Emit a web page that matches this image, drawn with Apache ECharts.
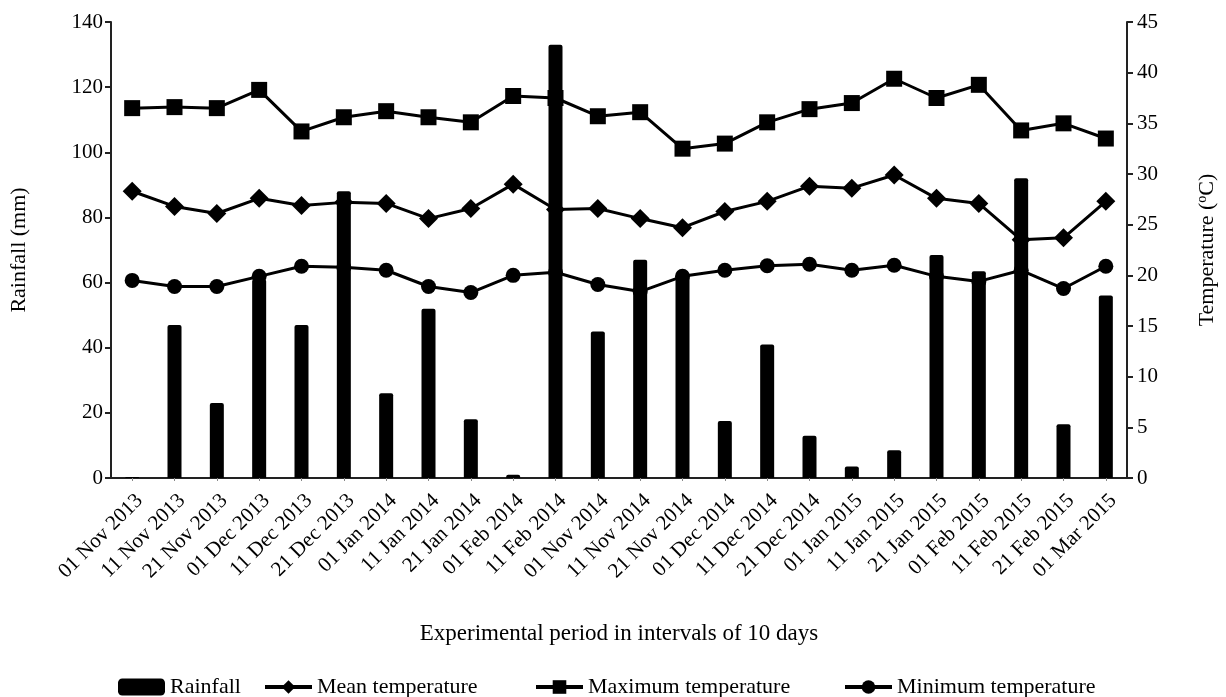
<!DOCTYPE html>
<html>
<head>
<meta charset="utf-8">
<script src="https://cdn.jsdelivr.net/npm/echarts@6/dist/echarts.min.js"></script>
<style>
  html, body { margin: 0; padding: 0; background: #fff; }
  #chart { width: 1226px; height: 697px; }
</style>
</head>
<body>
<div id="chart"></div>
<script>
// 10-day periods
const categories = [
  '01 Nov 2013', '11 Nov 2013', '21 Nov 2013', '01 Dec 2013', '11 Dec 2013', '21 Dec 2013',
  '01 Jan 2014', '11 Jan 2014', '21 Jan 2014', '01 Feb 2014', '11 Feb 2014',
  '01 Nov 2014', '11 Nov 2014', '21 Nov 2014', '01 Dec 2014', '11 Dec 2014', '21 Dec 2014',
  '01 Jan 2015', '11 Jan 2015', '21 Jan 2015', '01 Feb 2015', '11 Feb 2015', '21 Feb 2015', '01 Mar 2015'
]
// mm
const rainfall = [0.3, 47, 23, 61, 47, 88, 26, 52, 18, 1, 133, 45, 67, 62, 17.5, 41, 13, 3.5, 8.5, 68.5, 63.5, 92, 16.5, 56]
// degC
const meanTemp = [28.3, 26.8, 26.1, 27.6, 26.9, 27.2, 27.1, 25.6, 26.6, 29.0, 26.5, 26.6, 25.6, 24.7, 26.3, 27.3, 28.8, 28.6, 29.9, 27.6, 27.1, 23.5, 23.7, 27.3]
const maxTemp = [36.5, 36.6, 36.5, 38.3, 34.2, 35.6, 36.2, 35.6, 35.1, 37.7, 37.5, 35.7, 36.1, 32.5, 33.0, 35.1, 36.4, 37.0, 39.4, 37.5, 38.8, 34.3, 35.0, 33.5]
const minTemp = [19.5, 18.9, 18.9, 19.9, 20.9, 20.8, 20.5, 18.9, 18.3, 20.0, 20.3, 19.1, 18.4, 19.9, 20.5, 20.95, 21.1, 20.5, 21.0, 19.9, 19.4, 20.5, 18.7, 20.9]

const chart = echarts.init(document.getElementById('chart'))
const font = 'Liberation Serif'
const txt = { color: '#000', fontFamily: font, fontSize: 21 }
const nameTxt = { color: '#000', fontFamily: font, fontSize: 22 }
const axisLine = { show: true, lineStyle: { color: '#222', width: 2 } }

function lineSeries(name, data, symbol, size) {
  return {
    name: name,
    type: 'line',
    yAxisIndex: 1,
    data: data,
    symbol: symbol,
    symbolSize: size,
    z: 2,
    lineStyle: { color: '#000', width: 3 },
    itemStyle: { color: '#000' },
  }
}

function legendAt(name, left) {
  return {
    data: [name],
    left: left,
    top: 671,
    itemWidth: 47,
    itemHeight: 17,
    textStyle: nameTxt,
    lineStyle: { width: 4 },
    selectedMode: false,
  }
}

let option = {
  animation: false,
  grid: { left: 110, right: 98, top: 22, bottom: 219 },
  legend: [
    legendAt('Rainfall', 113),
    legendAt('Mean temperature', 258),
    legendAt('Maximum temperature', 529),
    legendAt('Minimum temperature', 838),
  ],
  xAxis: {
    type: 'category',
    data: categories,
    name: 'Experimental period in intervals of 10 days',
    nameLocation: 'middle',
    nameGap: 144,
    nameTextStyle: { ...nameTxt, fontSize: 23 },
    axisLine: axisLine,
    axisTick: { show: true, alignWithLabel: true, length: 3, lineStyle: { color: '#888' } },
    axisLabel: { rotate: 45, interval: 0, margin: 12, verticalAlign: 'top', ...txt },
  },
  yAxis: [
    {
      type: 'value',
      min: 0,
      max: 140,
      interval: 20,
      name: 'Rainfall (mm)',
      nameLocation: 'middle',
      nameGap: 81,
      nameRotate: 90,
      nameTextStyle: nameTxt,
      axisLine: axisLine,
      axisTick: { show: true, length: 6, lineStyle: { color: '#222', width: 2 } },
      axisLabel: { margin: 8, ...txt },
      splitLine: { show: false },
    },
    {
      type: 'value',
      min: 0,
      max: 45,
      interval: 5,
      name: 'Temperature ({s|o}C)',
      nameLocation: 'middle',
      nameGap: 68,
      nameRotate: 90,
      nameTextStyle: {
        ...nameTxt,
        rich: { s: { fontFamily: font, fontSize: 14, verticalAlign: 'top', padding: [0, 0, 10, 0] } },
      },
      axisLine: axisLine,
      axisTick: { show: true, length: 6, lineStyle: { color: '#222', width: 2 } },
      axisLabel: { margin: 10, ...txt },
      splitLine: { show: false },
    },
  ],
  series: [
    {
      name: 'Rainfall',
      type: 'bar',
      data: rainfall,
      barWidth: 14,
      z: 3,
      itemStyle: { color: '#000', borderRadius: [2, 2, 0, 0] },
    },
    lineSeries('Mean temperature', meanTemp, 'diamond', 19),
    lineSeries('Maximum temperature', maxTemp, 'rect', 16),
    lineSeries('Minimum temperature', minTemp, 'circle', 15),
  ],
}
chart.setOption(option)
</script>
</body>
</html>
